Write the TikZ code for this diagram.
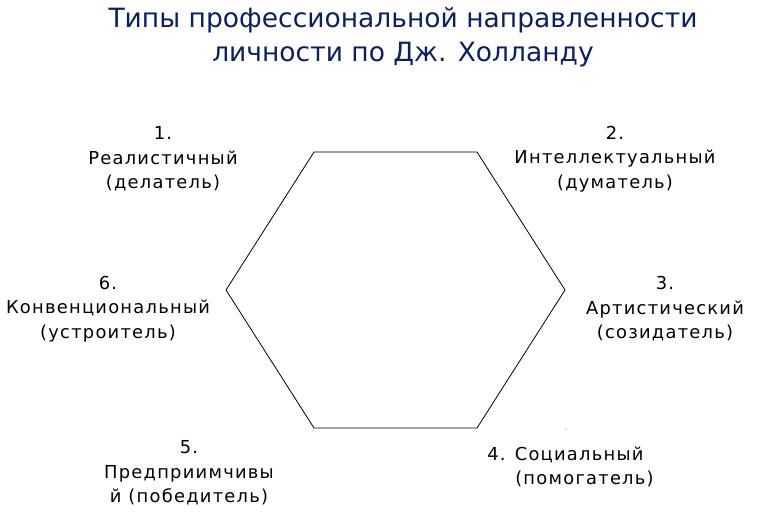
\documentclass[tikz,border=0pt]{standalone}
\usepackage{fontspec}
\setmainfont{DejaVu Sans}
\newfontfamily\LabelFont{DejaVu Sans}[LetterSpace=7]
\usepackage{tkz-euclide}
\definecolor{TitleClr}{rgb}{0.06,0.12,0.36}

\begin{document}
\begin{tikzpicture}[x=0.75pt,y=-0.75pt,
  TypeLbl/.style={font=\LabelFont\fontsize{13.4}{18.4}\selectfont,align=center,inner sep=0pt}]
\useasboundingbox (0,0) rectangle (771,514);
\tkzSetUpLine[line width=0.6pt,color=black]

\tkzDefPoints{314/152/P1,477/152/P2,565/290/P3,477/428/P4,314/428/P5,226/290/P6}
\tkzDrawPolygon(P1,P2,P3,P4,P5,P6)
\fill[black!60] (566,429) circle (0.7);

\node[font=\fontsize{19.9}{25.5}\selectfont,text=TitleClr,align=center] (title) at (403,37)
  {Типы профессиональной направленности\\личности по Дж. Холланду};

\node[TypeLbl] (real) at (163,159) {1.\\Реалистичный\\(делатель)};
\node[TypeLbl] (intel) at (615,159) {2.\\Интеллектуальный\\(думатель)};
\node[TypeLbl] (art) at (665,309) {3.\\Артистический\\(созидатель)};
\node[TypeLbl,align=left,anchor=west] (soc) at (487,467) {4. Социальный\\\hspace*{21pt}(помогатель)};
\node[TypeLbl] (ent) at (189,473) {5.\\Предприимчивы\\й (победитель)};
\node[TypeLbl] (conv) at (108,309) {6.\\Конвенциональный\\(устроитель)};

\end{tikzpicture}
\end{document}
